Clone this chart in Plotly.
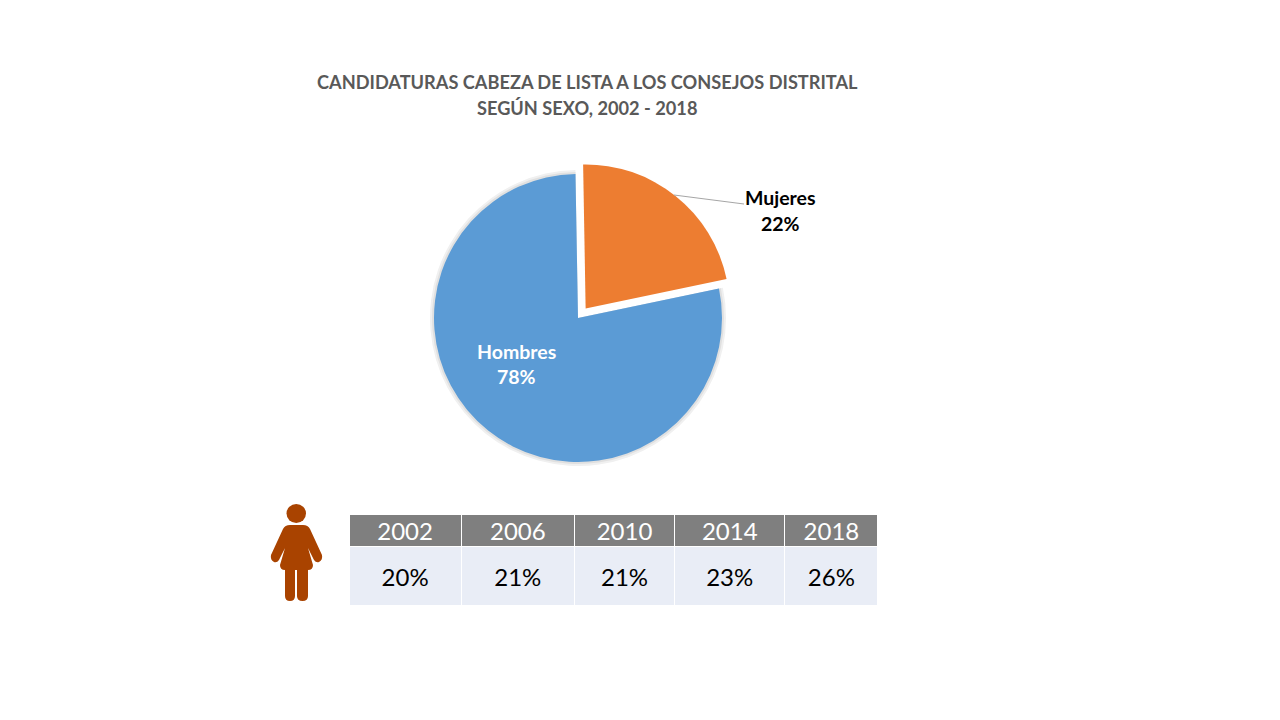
import plotly.graph_objects as go

sexo = ["Mujeres", "Hombres"]
porcentaje = [22, 78]
colores = ["#ED7D31", "#5B9BD5"]

anios = ["2002", "2006", "2010", "2014", "2018"]
mujeres_anio = ["20%", "21%", "21%", "23%", "26%"]
anchos = [112, 113, 100, 110, 93]

W, H = 1280, 720
FUENTE = "Lato"
GIRO = -1


def px(x):
    return x / W


def py(y):
    return 1 - y / H


def ruta(puntos):
    # puntos en pixeles de la imagen -> path en coordenadas paper
    salida = []
    for p in puntos:
        if isinstance(p, str):
            salida.append(p)
        else:
            salida.append(f"{px(p[0]):.5f},{py(p[1]):.5f}")
    return " ".join(salida)


def texto(fig, x, y, t, size, color):
    fig.add_annotation(x=px(x), y=py(y), xref="paper", yref="paper", showarrow=False,
                       xanchor="center", yanchor="middle", text=f"<b>{t}</b>",
                       font=dict(family=FUENTE, size=size, color=color))


fig = go.Figure()

# sombra suave debajo de la torta
for extra, gris in [(4, "#f0f0f0"), (2, "#e0e0e0")]:
    r = 144 + extra
    fig.add_trace(go.Pie(
        labels=sexo, values=porcentaje, sort=False, direction="clockwise", rotation=GIRO,
        marker=dict(colors=["rgba(0,0,0,0)", gris]), textinfo="none", hoverinfo="skip",
        showlegend=False,
        domain=dict(x=[px(578 - r), px(578 + r)], y=[py(318 + r), py(318 - r)]),
    ))

r = 144 * 1.085
fig.add_trace(go.Pie(
    labels=sexo, values=porcentaje, sort=False, direction="clockwise", rotation=GIRO,
    pull=[0.085, 0], marker=dict(colors=colores), textinfo="none", showlegend=False,
    domain=dict(x=[px(578 - r), px(578 + r)], y=[py(318 + r), py(318 - r)]),
))

# la tabla no centra en vertical: una linea con nbsp baja el texto de la celda
fig.add_trace(go.Table(
    columnwidth=anchos,
    domain=dict(x=[px(349), px(878)], y=[py(606), py(514)]),
    header=dict(values=anios, height=32, fill_color="#7F7F7F",
                line=dict(color="white", width=1), align="center",
                font=dict(family=FUENTE, size=24, color="white")),
    cells=dict(values=[[f"\u00a0<br><span style='font-size:24px'>{v}</span>"] for v in mujeres_anio],
               height=59, fill_color="#E9EDF6",
               line=dict(color="white", width=1), align="center",
               font=dict(family=FUENTE, size=14, color="black")),
))

texto(fig, 587, 82, "CANDIDATURAS CABEZA DE LISTA A LOS CONSEJOS DISTRITAL", 18.2, "#595959")
texto(fig, 587, 108, "SEGÚN SEXO, 2002 - 2018", 18.2, "#595959")
texto(fig, 516, 351, sexo[1], 19.5, "white")
texto(fig, 516, 376, f"{porcentaje[1]}%", 19.5, "white")
texto(fig, 780, 197, sexo[0], 19.5, "black")
texto(fig, 780, 223, f"{porcentaje[0]}%", 19.5, "black")

# linea guia de Mujeres
fig.add_shape(type="line", xref="paper", yref="paper", x0=px(674), y0=py(195), x1=px(744), y1=py(204),
              line=dict(color="#A6A6A6", width=1))

# icono de mujer
ICONO = "#A94300"
fig.add_shape(type="circle", xref="paper", yref="paper", x0=px(286.5), x1=px(306), y0=py(523), y1=py(504),
              fillcolor=ICONO, line_width=0)
cuerpo = ["M", (290, 525), "L", (303, 525), "Q", (308, 525), (310, 529), "L", (322, 555),
          "Q", (323, 560), (319, 562), "Q", (316, 563), (314, 560), "L", (308, 548), "L", (313, 565),
          "Q", (313, 570), (308, 570), "L", (308, 596), "Q", (308, 601), (302.5, 601),
          "Q", (297, 601), (297, 596), "L", (297, 570), "L", (295, 570), "L", (295, 596),
          "Q", (295, 601), (290, 601), "Q", (285, 601), (285, 596), "L", (285, 570),
          "Q", (280, 570), (280, 565), "L", (285, 548), "L", (279, 560), "Q", (277, 563), (274, 562),
          "Q", (270, 560), (271, 555), "L", (283, 529), "Q", (285, 525), (290, 525), "Z"]
fig.add_shape(type="path", xref="paper", yref="paper", path=ruta(cuerpo), fillcolor=ICONO, line_width=0)

fig.update_layout(width=W, height=H, margin=dict(l=0, r=0, t=0, b=0),
                  paper_bgcolor="white", plot_bgcolor="white")

fig.write_html("out.html", post_script="document.body.style.margin='0';",
               config=dict(displayModeBar=False))
